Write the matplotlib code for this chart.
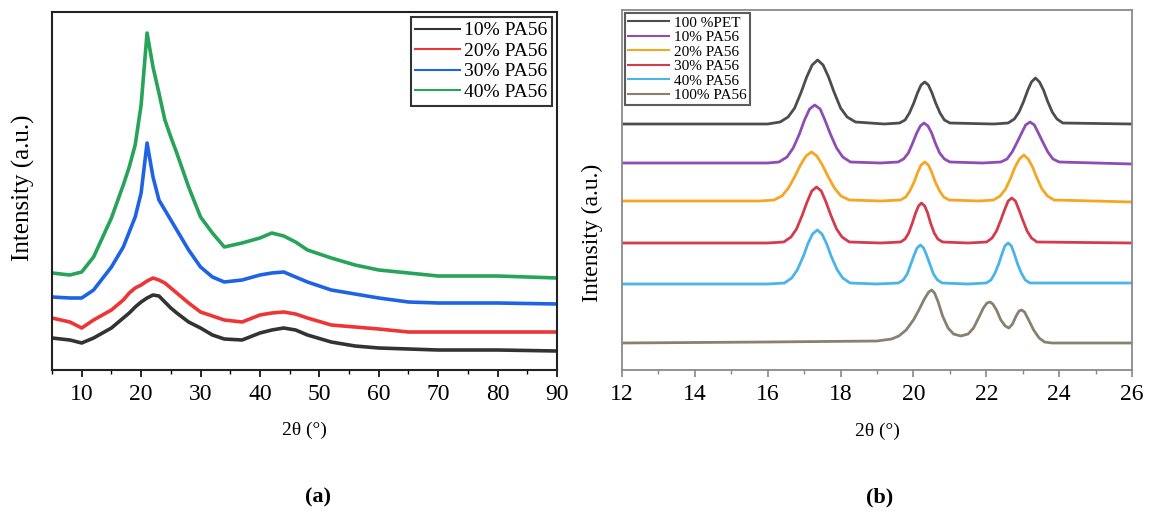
import matplotlib.pyplot as plt

plt.rcParams['font.family'] = ['Liberation Serif', 'DejaVu Serif']

# ---------- panel (a): wide-angle scans, 5-90 deg ----------
xa = [5, 8, 10, 12, 15, 17, 18, 19, 20, 21, 22, 23, 24, 25, 26, 28, 30, 32, 34, 37,
      40, 42, 44, 46, 48, 52, 56, 60, 65, 70, 75, 80, 90]
ya_10 = [32, 30, 27, 32, 42, 52, 57, 63, 68, 72, 75, 74, 68, 62, 57, 48, 42, 35, 31, 30,
         37, 40, 42, 40, 35, 28, 24, 22, 21, 20, 20, 20, 19]
ya_20 = [52, 48, 42, 50, 60, 70, 77, 82, 85, 89, 92, 90, 87, 82, 77, 67, 58, 54, 50, 48,
         55, 57, 58, 56, 52, 45, 43, 41, 38, 38, 38, 38, 38]
ya_30 = [73, 72, 72, 80, 103, 123, 138, 153, 177, 227, 193, 170, 160, 150, 140, 120, 103, 93, 88, 90,
         95, 97, 98, 93, 88, 80, 76, 72, 68, 67, 67, 67, 66]
ya_40 = [97, 95, 98, 113, 152, 185, 203, 225, 265, 337, 303, 277, 250, 233, 217, 183, 153, 137, 123, 127,
         132, 137, 134, 128, 120, 112, 105, 100, 97, 94, 94, 94, 92]
labels_a = ['10% PA56', '20% PA56', '30% PA56', '40% PA56']
colors_a = ['#333333', '#ee3535', '#1e63e6', '#27a35a']

# ---------- panel (b): 12-26 deg ----------
x_pet = [12, 16.0,
         16.34, 16.56, 16.74, 16.92, 17.07, 17.22, 17.37, 17.52, 17.67, 17.82, 18.0, 18.18, 18.41,
         19.2,
         19.62, 19.77, 19.89, 20.01, 20.11, 20.21, 20.31, 20.41, 20.51, 20.61, 20.73, 20.85, 21.0,
         22.2,
         22.6, 22.77, 22.9, 23.03, 23.14, 23.24, 23.35, 23.46, 23.57, 23.68, 23.81, 23.94, 24.1,
         26]
y_pet = [246, 246,
         248, 253, 262, 278, 293, 305, 310, 305, 293, 278, 262, 253, 248,
         246,
         247, 250, 257, 267, 277, 285, 288, 285, 277, 267, 257, 250, 247,
         246,
         247, 251, 258, 269, 280, 288, 292, 288, 280, 269, 258, 251, 247,
         246]

x_10 = [12, 16.0,
        16.31, 16.53, 16.7, 16.87, 17.01, 17.15, 17.29, 17.44, 17.57, 17.72, 17.89, 18.06, 18.27,
        19.1,
        19.58, 19.73, 19.86, 19.98, 20.09, 20.19, 20.29, 20.4, 20.5, 20.6, 20.72, 20.85, 21.0,
        21.9,
        22.4, 22.57, 22.71, 22.85, 22.97, 23.08, 23.2, 23.32, 23.43, 23.55, 23.69, 23.83, 24.0,
        26]
y_10 = [207, 207,
        208, 213, 222, 236, 250, 261, 265, 261, 250, 236, 222, 213, 208,
        207,
        208, 211, 217, 227, 237, 244, 247, 244, 237, 227, 217, 211, 208,
        207,
        208, 211, 218, 228, 237, 245, 248, 245, 237, 228, 218, 211, 208,
        206]

x_20 = [12, 15.8,
        16.17, 16.39, 16.57, 16.75, 16.9, 17.05, 17.2, 17.35, 17.5, 17.65, 17.83, 18.01, 18.24,
        19.1,
        19.64, 19.79, 19.9, 20.02, 20.12, 20.21, 20.31, 20.41, 20.5, 20.6, 20.72, 20.83, 20.98,
        21.8,
        22.2, 22.38, 22.53, 22.67, 22.79, 22.91, 23.03, 23.15, 23.27, 23.39, 23.53, 23.68, 23.86,
        26]
y_20 = [169, 169,
        170, 174, 182, 194, 205, 214, 218, 214, 205, 194, 182, 174, 170,
        169,
        170, 173, 179, 188, 198, 205, 208, 205, 198, 188, 179, 173, 170,
        169,
        170, 174, 181, 192, 203, 211, 215, 211, 203, 192, 181, 174, 170,
        168]

x_30 = [12, 16.0,
        16.44, 16.64, 16.79, 16.95, 17.08, 17.21, 17.34, 17.47, 17.6, 17.73, 17.89, 18.04, 18.24,
        19.1,
        19.65, 19.77, 19.87, 19.97, 20.06, 20.14, 20.22, 20.31, 20.39, 20.47, 20.57, 20.67, 20.8,
        21.5,
        22.01, 22.16, 22.28, 22.4, 22.5, 22.6, 22.7, 22.8, 22.9, 23.0, 23.12, 23.24, 23.39,
        26]
y_30 = [127, 127,
        128, 133, 141, 155, 168, 179, 183, 179, 168, 155, 141, 133, 128,
        127,
        128, 131, 137, 147, 157, 164, 167, 164, 157, 147, 137, 131, 128,
        127,
        128, 132, 139, 150, 160, 169, 172, 169, 160, 150, 139, 132, 128,
        127]

x_40 = [12, 16.0,
        16.46, 16.66, 16.81, 16.97, 17.1, 17.23, 17.36, 17.49, 17.62, 17.75, 17.91, 18.06, 18.26,
        19.0,
        19.59, 19.72, 19.83, 19.93, 20.02, 20.1, 20.19, 20.28, 20.36, 20.45, 20.55, 20.66, 20.79,
        21.5,
        22.0, 22.13, 22.24, 22.34, 22.43, 22.51, 22.6, 22.69, 22.77, 22.86, 22.96, 23.07, 23.2,
        26]
y_40 = [86, 86,
        87, 92, 100, 113, 126, 136, 140, 136, 126, 113, 100, 92, 87,
        86,
        87, 90, 96, 106, 115, 122, 125, 122, 115, 106, 96, 90, 87,
        86,
        87, 90, 97, 106, 116, 124, 127, 124, 116, 106, 97, 90, 87,
        87]

x_pa = [12, 16, 19.0, 19.4, 19.6, 19.8, 20.0, 20.15, 20.3, 20.42, 20.5, 20.58, 20.68, 20.8,
        20.95, 21.1, 21.3, 21.5, 21.65, 21.8, 21.92, 22.02, 22.1, 22.18, 22.28, 22.4, 22.52,
        22.62, 22.72, 22.82, 22.9, 22.97, 23.05, 23.15, 23.3, 23.45, 23.6, 23.8, 26]
y_pa = [27, 28, 29, 31, 34, 40, 50, 60, 71, 78, 80, 77, 68, 54,
        42, 36, 34, 36, 42, 53, 62, 67, 68, 66, 60, 50, 44,
        42, 46, 54, 59, 60, 58, 51, 40, 32, 28, 27, 27]

labels_b = ['100 %PET', '10% PA56', '20% PA56', '30% PA56', '40% PA56', '100% PA56']
colors_b = ['#4d4d4d', '#8e4db5', '#f5a623', '#d23c4c', '#4ab4ea', '#8a8070']

W, H = 1156, 517
fig = plt.figure(figsize=(W / 100, H / 100), dpi=100)

# panel (a)
ax1 = fig.add_axes([52 / W, 1 - 370 / H, 505 / W, 358 / H])
for ys, lab, c in zip([ya_10, ya_20, ya_30, ya_40], labels_a, colors_a):
    ax1.plot(xa, ys, color=c, lw=2.6, label=lab)
ax1.set_xlim(5, 90)
ax1.set_ylim(0, 358)
ax1.set_xticks([10, 20, 30, 40, 50, 60, 70, 80, 90])
ax1.set_xticks(range(5, 91, 5), minor=True)
ax1.set_yticks([])
ax1.tick_params(axis='x', direction='out', length=5, width=1.2, labelsize=17, pad=5)
ax1.tick_params(axis='x', which='minor', length=3, width=1)
for s in ax1.spines.values():
    s.set_linewidth(1.5)
    s.set_color('#222222')
ax1.set_ylabel('Intensity (a.u.)', fontsize=18)
ax1.yaxis.set_label_coords(-0.034, 0.51)
ax1.set_xlabel('2θ (°)', fontsize=14)
ax1.xaxis.set_label_coords(0.5, -0.145)
leg1 = ax1.legend(loc='upper right', fontsize=14, handlelength=2.3, handletextpad=0.2,
                  labelspacing=0.15, borderaxespad=0.25, borderpad=0.25, fancybox=False)
leg1.get_frame().set_edgecolor('black')
leg1.get_frame().set_linewidth(1.5)
for line in leg1.get_lines():
    line.set_linewidth(1.5)

# panel (b)
ax2 = fig.add_axes([622 / W, 1 - 370 / H, 510 / W, 360 / H])
series_b = [(x_pet, y_pet), (x_10, y_10), (x_20, y_20), (x_30, y_30), (x_40, y_40), (x_pa, y_pa)]
for (xs, ys), lab, c in zip(series_b, labels_b, colors_b):
    ax2.plot(xs, ys, color=c, lw=2.0, label=lab)
ax2.set_xlim(12, 26)
ax2.set_ylim(0, 360)
ax2.set_xticks(range(12, 27, 2))
ax2.set_xticks(range(12, 27, 1), minor=True)
ax2.set_yticks([])
ax2.tick_params(axis='x', direction='out', length=5, width=1.2, color='#888888', labelsize=17, pad=5)
ax2.tick_params(axis='x', which='minor', length=3, width=1, color='#888888')
for s in ax2.spines.values():
    s.set_linewidth(1.3)
    s.set_color('#8a8a8a')
ax2.set_ylabel('Intensity (a.u.)', fontsize=17)
ax2.yaxis.set_label_coords(-0.037, 0.38)
ax2.set_xlabel('2θ (°)', fontsize=14)
ax2.xaxis.set_label_coords(0.5, -0.145)
leg2 = ax2.legend(loc='upper left', fontsize=11, handlelength=2.7, handletextpad=0.3,
                  labelspacing=0.05, borderaxespad=0.2, borderpad=0.2, fancybox=False)
leg2.get_frame().set_edgecolor('#333333')
leg2.get_frame().set_linewidth(1.5)
for line in leg2.get_lines():
    line.set_linewidth(1.5)

fig.text(318 / W, 1 - 497 / H, '(a)', ha='center', va='center', fontsize=16, fontweight='bold')
fig.text(880 / W, 1 - 497 / H, '(b)', ha='center', va='center', fontsize=16, fontweight='bold')

fig.savefig('out.png', dpi=100)
